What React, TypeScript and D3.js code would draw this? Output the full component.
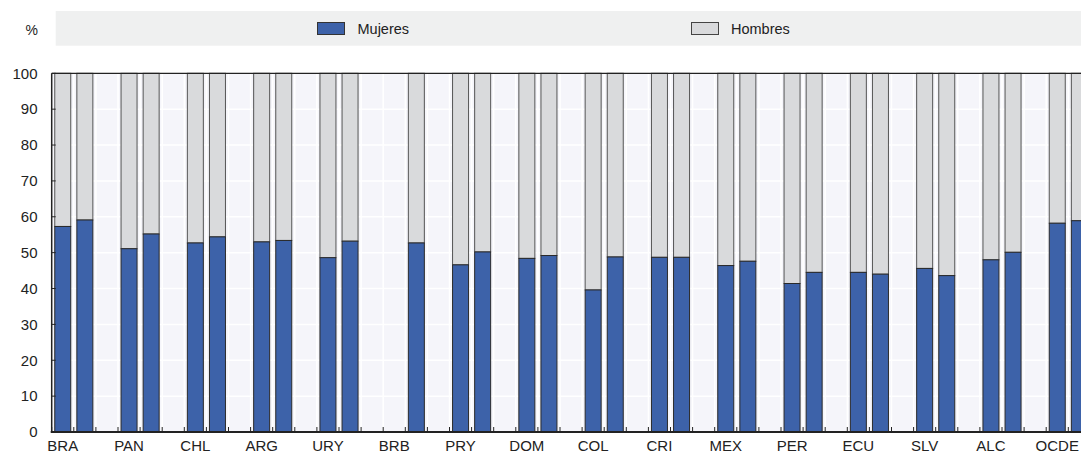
import React from "react";
import * as d3 from "d3";

const categories = ["BRA", "PAN", "CHL", "ARG", "URY", "BRB", "PRY", "DOM", "COL", "CRI", "MEX", "PER", "ECU", "SLV", "ALC", "OCDE"];
// Share of women (%) for the two bars of each group; null = no data
const mujeresA: (number | null)[] = [57.3, 51.1, 52.7, 53.0, 48.6, null, 46.6, 48.4, 39.6, 48.7, 46.4, 41.4, 44.5, 45.6, 48.0, 58.2];
const mujeresB: (number | null)[] = [59.1, 55.2, 54.4, 53.4, 53.2, 52.7, 50.2, 49.2, 48.8, 48.7, 47.6, 44.5, 44.0, 43.6, 50.1, 58.9];
const yTicks = [0, 10, 20, 30, 40, 50, 60, 70, 80, 90, 100];
const seriesNames = ["Mujeres", "Hombres"];

const W = 1081;
const H = 454;
const BLUE = "#3d62a9";
const GREY = "#d9dadc";
const FONT = "'Liberation Sans', Arial, Helvetica, sans-serif";

export default function App() {
  const left = 51.7;
  const top = 73.3;
  const bottom = 432;
  const nSlots = categories.length * 3;
  const step = 22.1;
  const x = d3
    .scaleBand<number>()
    .domain(d3.range(nSlots))
    .range([left, left + step * nSlots])
    .padding(0);
  const y = d3.scaleLinear().domain([0, 100]).range([bottom, top]);
  const barW = 16;

  const bars: { key: string; x: number; m: number }[] = [];
  categories.forEach((c, i) => {
    [mujeresA[i], mujeresB[i]].forEach((v, j) => {
      if (v == null) return;
      const sx = x(i * 3 + j)!;
      bars.push({ key: `${c}-${j}`, x: sx + (x.bandwidth() - barW) / 2, m: v });
    });
  });

  const boundaries = d3.range(nSlots + 1).map((k) => left + k * x.step());

  return (
    <div style={{ position: "fixed", left: 0, top: 0, width: W, height: H, overflow: "hidden" }}>
      <svg width={W} height={H} style={{ display: "block", fontFamily: FONT }}>
        <rect x={0} y={0} width={W} height={H} fill="#fff" />
        {/* legend band */}
        <rect x={55.7} y={11} width={W - 55.7} height={34.7} fill="#eff0f0" />
        <text x={38} y={35} fontSize={14} textAnchor="end" fill="#222">%</text>
        <rect x={317.5} y={22.5} width={27} height={12} fill={BLUE} stroke="#333" strokeWidth={1} />
        <text x={357.5} y={34} fontSize={14.5} fill="#222">{seriesNames[0]}</text>
        <rect x={691.5} y={22.5} width={27} height={12} fill={GREY} stroke="#444" strokeWidth={1} />
        <text x={731} y={34} fontSize={14.5} fill="#222">{seriesNames[1]}</text>

        {/* plot background */}
        <rect x={left} y={top} width={W - left} height={bottom - top} fill="#f5f5fa" />
        {yTicks.map((t) => (
          <line key={`gy${t}`} x1={left} x2={W} y1={y(t)} y2={y(t)} stroke="#fff" strokeWidth={1.5} />
        ))}
        {boundaries.map((b, k) => (
          <line key={`gx${k}`} x1={b} x2={b} y1={top} y2={bottom} stroke="#fff" strokeWidth={1.5} />
        ))}

        {/* bars */}
        {bars.map((b) => (
          <g key={b.key}>
            <rect x={b.x} y={y(100)} width={barW} height={y(b.m) - y(100)} fill={GREY} stroke="#555" strokeWidth={1} />
            <rect x={b.x} y={y(b.m)} width={barW} height={y(0) - y(b.m)} fill={BLUE} stroke="#2a2a2a" strokeWidth={1} />
          </g>
        ))}

        {/* top border */}
        <line x1={left} x2={W} y1={top} y2={top} stroke="#222" strokeWidth={1.2} />
        {/* y axis */}
        <line x1={left} x2={left} y1={top} y2={bottom} stroke="#222" strokeWidth={1.5} />
        {yTicks.map((t) => (
          <g key={`yt${t}`}>
            <line x1={left} x2={left + 4} y1={y(t)} y2={y(t)} stroke="#222" strokeWidth={1} />
            <text x={37.5} y={y(t) + 5.3} fontSize={15} textAnchor="end" fill="#222">{t}</text>
          </g>
        ))}
        {/* x axis */}
        <line x1={left - 1} x2={W} y1={bottom} y2={bottom} stroke="#222" strokeWidth={2} />
        {boundaries.map((b, k) => (
          <line key={`xt${k}`} x1={b} x2={b} y1={bottom} y2={bottom - 5} stroke="#222" strokeWidth={1} />
        ))}
        {categories.map((c, i) => (
          <text key={c} x={x(i * 3)! + x.bandwidth() / 2} y={bottom + 19} fontSize={15} textAnchor="middle" fill="#222">{c}</text>
        ))}
      </svg>
    </div>
  );
}
